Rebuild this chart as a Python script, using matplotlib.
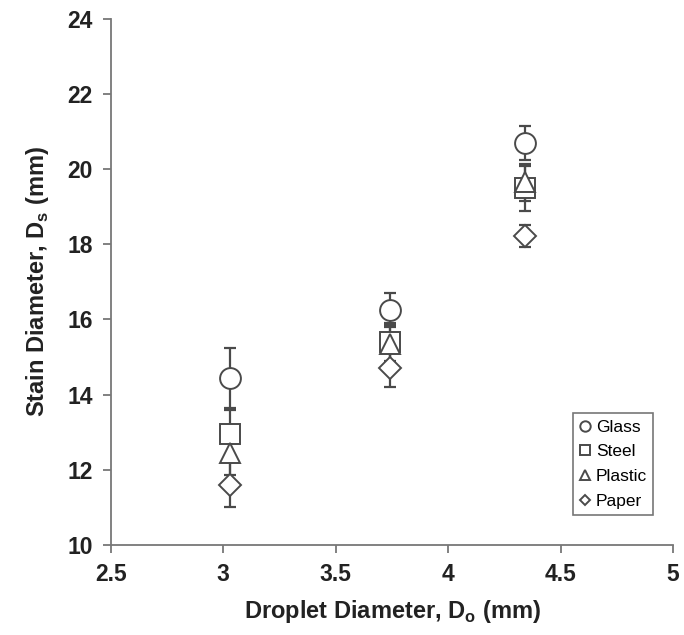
import matplotlib
matplotlib.use("Agg")
import matplotlib.pyplot as plt

plt.rcParams['font.family'] = ['Liberation Sans', 'DejaVu Sans']

# droplet diameter (mm)
droplet = [3.03, 3.74, 4.34]

# stain diameter (mm) and error per surface
glass = [14.45, 16.25, 20.7]
glass_err = [0.8, 0.45, 0.45]
steel = [12.95, 15.4, 19.5]
steel_err = [0.65, 0.5, 0.6]
plastic = [12.45, 15.35, 19.65]
plastic_err = [0.6, 0.5, 0.5]
paper = [11.6, 14.7, 18.22]
paper_err = [0.6, 0.5, 0.3]

labels = ["Glass", "Steel", "Plastic", "Paper"]
series = [(glass, glass_err, 'o', 15), (steel, steel_err, 's', 14),
          (plastic, plastic_err, '^', 15), (paper, paper_err, 'D', 11)]

grey = '#4a4a4a'
fig = plt.figure(figsize=(6.84, 6.35), dpi=100)
ax = fig.add_axes([0.162, 0.142, 0.822, 0.828])

handles = []
for (vals, err, mk, ms), lab in zip(series, labels):
    ax.errorbar(droplet, vals, yerr=err, fmt='none', ecolor=grey,
                elinewidth=1.6, capsize=4.5, capthick=1.6, zorder=2)
    h, = ax.plot(droplet, vals, linestyle='none', marker=mk, markersize=ms,
                 markerfacecolor='white', markeredgecolor=grey,
                 markeredgewidth=1.4, label=lab, zorder=3)
    handles.append(h)

ax.set_xlim(2.5, 5)
ax.set_ylim(10, 24)
ax.set_xticks([2.5, 3, 3.5, 4, 4.5, 5])
ax.set_xticklabels(["2.5", "3", "3.5", "4", "4.5", "5"])
ax.set_yticks(range(10, 25, 2))

for s in ['top', 'right']:
    ax.spines[s].set_visible(False)
for s in ['left', 'bottom']:
    ax.spines[s].set_color('#777777')
    ax.spines[s].set_linewidth(1.3)
ax.tick_params(direction='out', length=6, width=1.3, color='#777777',
               labelsize=16.5, pad=7)
for t in ax.get_xticklabels() + ax.get_yticklabels():
    t.set_fontweight('bold')
    t.set_color('#222222')

ax.set_xlabel("Droplet Diameter, D$_\\mathregular{o}$ (mm)", fontsize=17,
              fontweight='bold', color='#222222', labelpad=9)
ax.set_ylabel("Stain Diameter, D$_\\mathregular{s}$ (mm)", fontsize=17,
              fontweight='bold', color='#222222', labelpad=12)

leg = ax.legend(handles=handles, loc='lower right', bbox_to_anchor=(0.965, 0.057),
                borderaxespad=0, fontsize=12.5, frameon=True, fancybox=False,
                markerscale=0.5, handlelength=0.6, handletextpad=0.35,
                borderpad=0.35, labelspacing=0.55, edgecolor='#555555')
leg.get_frame().set_linewidth(1.2)

fig.savefig("out.png", dpi=100)
